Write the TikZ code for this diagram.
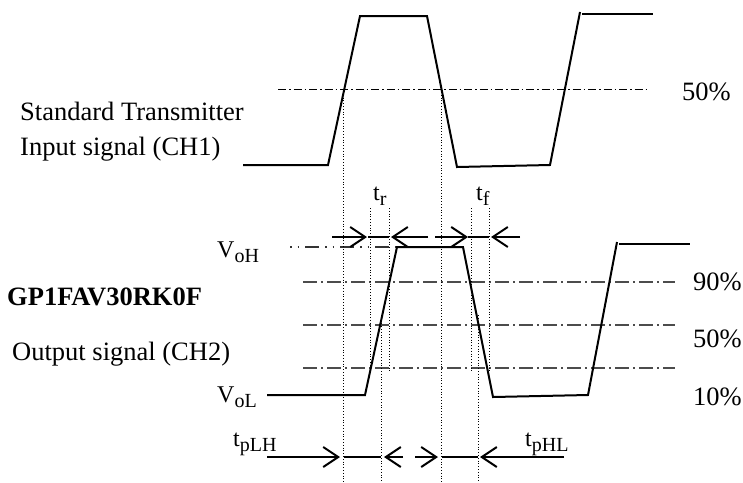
\documentclass[tikz,border=0pt]{standalone}
\usepackage{fontspec}
\setmainfont{Liberation Serif}
\usetikzlibrary{arrows.meta}
\newcommand\lbl{\fontsize{26.5}{30}\selectfont}
\newcommand\sml{\fontsize{24}{27}\selectfont}
\newcommand\subs[1]{\raisebox{-5pt}{\fontsize{20}{22}\selectfont #1}}
\tikzset{
  wave/.style={line width=2pt, line join=miter},
  level/.style={line width=1.4pt, draw=black!70, dash pattern=on 14pt off 4pt on 2pt off 4pt},
  toplevel/.style={line width=1pt, draw=black, dash pattern=on 8pt off 3pt on 1.5pt off 3pt},
  vohlevel/.style={line width=1.4pt, draw=black!80, dash pattern=on 1.5pt off 6pt on 1.5pt off 6pt on 14pt off 6pt},
  guide/.style={line width=0.8pt, dotted},
  arr/.style={line width=2pt, -{Straight Barb[length=15pt, width=20pt, line width=2pt]}},
  seg/.style={line width=2pt},
  txt/.style={anchor=base west, inner sep=0pt, font=\lbl},
  stxt/.style={anchor=base west, inner sep=0pt, font=\sml}
}
\begin{document}
\begin{tikzpicture}[x=1pt, y=-1pt]
\useasboundingbox (0,0) rectangle (743,482);

% level lines
\draw[toplevel] (278,89) -- (647,89);
\draw[vohlevel] (290,247) -- (396,247);
\draw[level] (303,282) -- (675,282);
\draw[level] (303,325) -- (675,325);
\draw[level] (303,368) -- (675,368);

% guide lines
\draw[guide] (343,92) -- (343,482);
\draw[guide] (441,92) -- (441,482);
\draw[guide] (370,208) -- (370,372);
\draw[guide] (389,208) -- (389,372);
\draw[guide] (471,208) -- (471,372);
\draw[guide] (489,208) -- (489,372);
\draw[guide] (381,315) -- (381,482);
\draw[guide] (478,315) -- (478,482);

% input waveform
\draw[wave] (243,165) -- (328,165) -- (360,16) -- (427,16) -- (457,167) -- (550,165) -- (580,12);
\draw[wave] (582,14) -- (653,14);

% output waveform
\draw[wave] (267,395) -- (365,395) -- (397,247) -- (463,247) -- (493,397) -- (588,395) -- (617,242);
\draw[wave] (619,244) -- (690,244);

% tr / tf arrows
\draw[arr] (332,237) -- (367,237);
\draw[seg] (368,237) -- (389,237);
\draw[arr] (428,237) -- (391,237);
\draw[arr] (435,237) -- (468,237);
\draw[seg] (468,237) -- (489,237);
\draw[arr] (520,237) -- (491,237);

% tpLH / tpHL arrows
\draw[arr] (267,457) -- (340,457);
\draw[seg] (344,457) -- (381,457);
\draw[arr] (403,457) -- (384,457);
\draw[arr] (415,457) -- (438,457);
\draw[seg] (442,457) -- (478,457);
\draw[arr] (564,457) -- (480,457);

% texts
\node[txt] (st) at (20,120) {Standard Transmitter};
\node[txt] (in) at (20,155) {Input signal (CH1)};
\node[txt] (p50a) at (682,100) {50\%};
\node[stxt] (tr) at (373,200) {t\subs{r}};
\node[stxt] (tf) at (476,200) {t\subs{f}};
\node[stxt] (voh) at (217,257) {V\subs{oH}};
\node[txt, font=\lbl\bfseries] (gp) at (7,305) {GP1FAV30RK0F};
\node[txt] (out) at (12,360) {Output signal (CH2)};
\node[stxt] (vol) at (217,402) {V\subs{oL}};
\node[txt] (p90) at (693,290) {90\%};
\node[txt] (p50b) at (693,347) {50\%};
\node[txt] (p10) at (693,405) {10\%};
\node[stxt] (tplh) at (233,446) {t\subs{pLH}};
\node[stxt] (tphl) at (525,446) {t\subs{pHL}};
\end{tikzpicture}
\end{document}
